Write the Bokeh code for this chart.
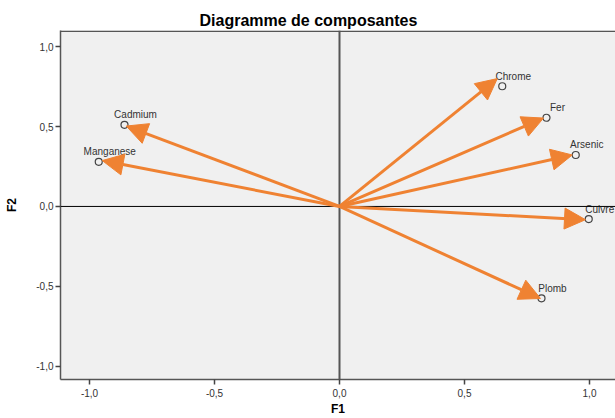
from bokeh.plotting import figure
from bokeh.models import Arrow, NormalHead, Span, ColumnDataSource, FixedTicker
from bokeh.embed import file_html
from bokeh.resources import INLINE

variables = ["Chrome", "Fer", "Arsenic", "Cuivre", "Plomb", "Cadmium", "Manganese"]
f1 = [0.651, 0.828, 0.945, 0.997, 0.808, -0.860, -0.963]
f2 = [0.752, 0.555, 0.322, -0.079, -0.575, 0.511, 0.279]
arrow_f1 = [0.631, 0.816, 0.931, 0.984, 0.804, -0.853, -0.949]
arrow_f2 = [0.800, 0.553, 0.322, -0.083, -0.576, 0.503, 0.287]
ticks = [-1.0, -0.5, 0.0, 0.5, 1.0]
tick_labels = ["-1,0", "-0,5", "0,0", "0,5", "1,0"]

FONT = "Liberation Sans"
ORANGE = "#ef8232"
Y_TOP = 1.101

p = figure(width=615, height=418, x_range=(-1.116, 1.104), y_range=(-1.083, Y_TOP),
           output_backend="svg", toolbar_location=None,
           min_border_left=60, min_border_right=0, min_border_top=30, min_border_bottom=37,
           background_fill_color="#f0f0f0", border_fill_color="white")
p.title.text = "Diagramme de composantes"
p.title.text_font = FONT
p.title.text_font_size = "16px"
p.title.text_font_style = "bold"
p.title.text_color = "black"
p.title.align = "left"
p.title.offset = 139
p.title.standoff = 3

p.grid.visible = False
p.outline_line_color = None

for ax in (p.xaxis[0], p.yaxis[0]):
    ax.ticker = FixedTicker(ticks=ticks)
    ax.major_label_overrides = {t: l for t, l in zip(ticks, tick_labels)}
    ax.major_label_text_font = FONT
    ax.major_label_text_font_size = "10px"
    ax.major_label_text_color = "#333333"
    ax.axis_line_color = "#555555"
    ax.axis_line_width = 1.5
    ax.major_tick_line_color = "#444444"
    ax.major_tick_line_width = 1.5
    ax.major_tick_in = 0
    ax.major_tick_out = 5
    ax.minor_tick_line_color = None
    ax.axis_label_text_font = FONT
    ax.axis_label_text_font_size = "12px"
    ax.axis_label_text_font_style = "bold"
    ax.axis_label_text_color = "black"

p.xaxis.axis_label = "F1"
p.yaxis.axis_label = "F2"
p.xaxis.major_label_standoff = 4
p.xaxis.axis_label_standoff = 2
p.yaxis.major_label_standoff = 2
p.yaxis.axis_label_standoff = 14

# top border of the frame (right side is cut off in the reference)
p.add_layout(Span(location=Y_TOP - 0.004, dimension="width", line_color="#555555", line_width=1.5))
p.add_layout(Span(location=0, dimension="height", line_color="#555555", line_width=2))
p.add_layout(Span(location=0, dimension="width", line_color="black", line_width=1))

for xe, ye in zip(arrow_f1, arrow_f2):
    p.add_layout(Arrow(end=NormalHead(size=21, fill_color=ORANGE, line_color=ORANGE, line_width=1),
                       x_start=0, y_start=0, x_end=xe, y_end=ye,
                       line_color=ORANGE, line_width=3))

src = ColumnDataSource(dict(x=f1, y=f2, name=variables))
p.scatter("x", "y", source=src, size=7, fill_color=None, line_color="#444444", line_width=1.2)
p.text("x", "y", text="name", source=src, x_offset=11, y_offset=-10,
       text_align="center", text_baseline="middle", text_font_size="10px",
       text_color="#333333", text_font={"value": FONT})

open("out.html", "w").write(file_html(p, INLINE))
